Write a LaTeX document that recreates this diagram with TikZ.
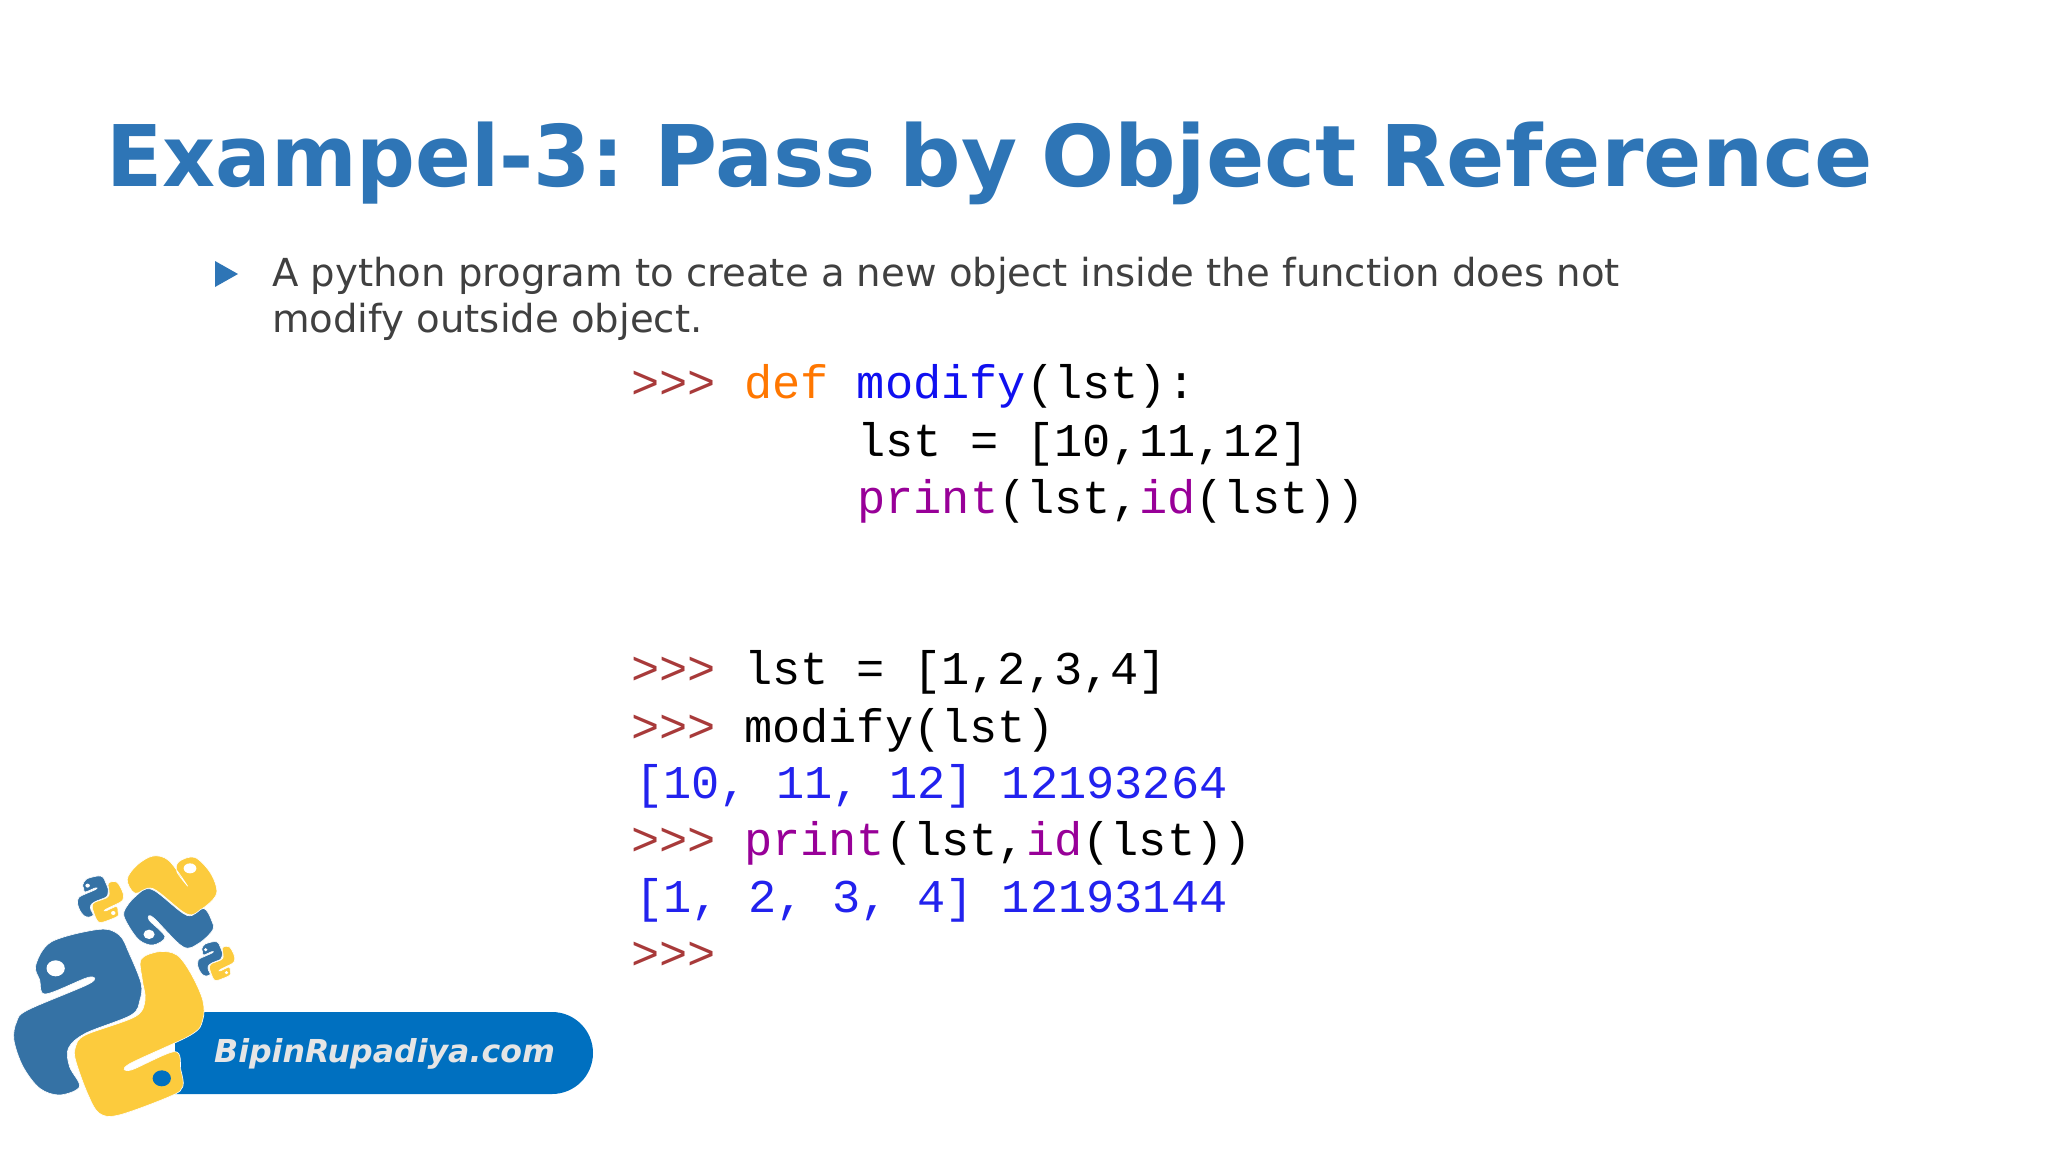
\documentclass[tikz,border=0pt]{standalone}
\usepackage{graphicx}
\usepackage{fontspec}
\setmainfont{DejaVu Sans}
\newfontfamily\titlefont{DejaVu Sans Bold}[WordSpace=0.8]
\newfontfamily\codefont{Liberation Mono}
\definecolor{titleblue}{HTML}{2E75B6}
\definecolor{bodygrey}{HTML}{404040}
\definecolor{pillblue}{HTML}{0070C0}
\definecolor{pyblue}{HTML}{3572A5}
\definecolor{pyyellow}{HTML}{FCCB3D}
\definecolor{promptred}{HTML}{A83A3A}
\definecolor{kworange}{HTML}{FF7700}
\definecolor{defblue}{HTML}{1010F0}
\definecolor{biviolet}{HTML}{980098}
\definecolor{outblue}{HTML}{2222EE}
\newcommand{\pr}{\textcolor{promptred}{>>>}}
\newcommand{\pythonmark}[1]{%
  \fill[pyblue,draw=white,line width=0.6pt] plot[smooth cycle,tension=0.55] coordinates {(90,375)(130,305)(250,268)(300,285)(325,340)(355,430)(352,480)(330,525)(215,580)(172,625)(175,680)(200,740)(150,765)(100,745)(58,680)(35,600)(42,545)(70,510)(225,431)(222,412)(115,462)(100,420)};
  \fill[#1] (140,385) ellipse (23 and 24);
  \fill[pyyellow,draw=white,line width=0.6pt] plot[smooth cycle,tension=0.55] coordinates {(355,358)(400,335)(445,345)(480,400)(510,480)(510,540)(480,585)(325,672)(330,690)(440,635)(455,690)(460,740)(430,768)(300,825)(250,820)(220,760)(190,660)(190,620)(215,585)(340,530)(365,480)(358,420)};
}
\begin{document}
\begin{tikzpicture}[x=1pt,y=-1pt,
  titletext/.style={anchor=base west,inner sep=0pt,text=titleblue,font=\fontsize{85}{85}\selectfont\titlefont},
  bodytext/.style={anchor=base west,inner sep=0pt,text=bodygrey,font=\fontsize{38.6}{46}\selectfont},
  codeline/.style={anchor=base west,inner sep=0pt,font=\fontsize{47}{47}\selectfont\codefont},
  sitetext/.style={anchor=base west,inner sep=0pt,text=white!90!black,font=\fontsize{31.6}{32}\selectfont\bfseries\itshape}]
\useasboundingbox (0,0) rectangle (2048,1152);
\fill[white] (0,0) rectangle (2048,1152);
\node[titletext] (title) at (106,186) {\scalebox{0.968}[1]{Exampel-3:} \hspace{7pt}\scalebox{1.013}[1]{Pass by Object Reference}};
\fill[titleblue] (215,261) -- (238,274) -- (215,287) -- cycle;
\node[bodytext] (l1) at (272,286) {A python program to create a new object inside the function does not};
\node[bodytext] (l2) at (272,332) {modify outside object.};
\node[codeline] (c1) at (631,398) {\pr{} \textcolor{kworange}{def} \textcolor{defblue}{modify}(lst):};
\node[codeline] (c2) at (857,456) {lst = [10,11,12]};
\node[codeline] (c3) at (857,513) {\textcolor{biviolet}{print}(lst,\textcolor{biviolet}{id}(lst))};
\node[codeline] (c4) at (631,684) {\pr{} lst = [1,2,3,4]};
\node[codeline] (c5) at (631,742) {\pr{} modify(lst)};
\node[codeline,text=outblue] (c6) at (635,798) {[10, 11, 12] 12193264};
\node[codeline] (c7) at (631,855) {\pr{} \textcolor{biviolet}{print}(lst,\textcolor{biviolet}{id}(lst))};
\node[codeline,text=outblue] (c8) at (635,912) {[1, 2, 3, 4] 12193144};
\node[codeline] (c9) at (631,969) {\pr};
\fill[pillblue] (175,1012) [rounded corners=41pt] -- (593,1012) -- (593,1094) [sharp corners] -- (175,1094) -- cycle;
\begin{scope}[shift={(0,840)},xscale=0.3975,yscale=0.3333]
  \pythonmark{white}
  \fill[pillblue] (407,715) ellipse (23 and 24);
  \fill[pyyellow,draw=white,line width=0.6pt] plot[smooth cycle,tension=0.55] coordinates {(320,118)(345,75)(385,48)(425,62)(472,138)(445,95)(450,65)(490,52)(530,100)(545,160)(510,205)(470,222)(385,146)(340,160)};
  \fill[white] (478,85) ellipse (16 and 15);
  \fill[pyblue,draw=white,line width=0.6pt] plot[smooth cycle,tension=0.55] coordinates {(312,215)(340,170)(382,148)(470,226)(512,205)(532,240)(535,270)(500,310)(460,320)(385,232)(375,240)(415,290)(385,315)(350,300)(320,250)};
  \fill[white] (375,283) ellipse (14 and 14);
  \begin{scope}[shift={(186.5,41)},xscale=0.242,yscale=0.249]
    \pythonmark{white}
    \fill[white] (407,715) ellipse (23 and 24);
  \end{scope}
  \begin{scope}[shift={(490,249)},xscale=0.196,yscale=0.208]
    \pythonmark{white}
    \fill[white] (407,715) ellipse (23 and 24);
  \end{scope}
\end{scope}
\node[sitetext] (site) at (214,1062) {BipinRupadiya.com};
\end{tikzpicture}
\end{document}
